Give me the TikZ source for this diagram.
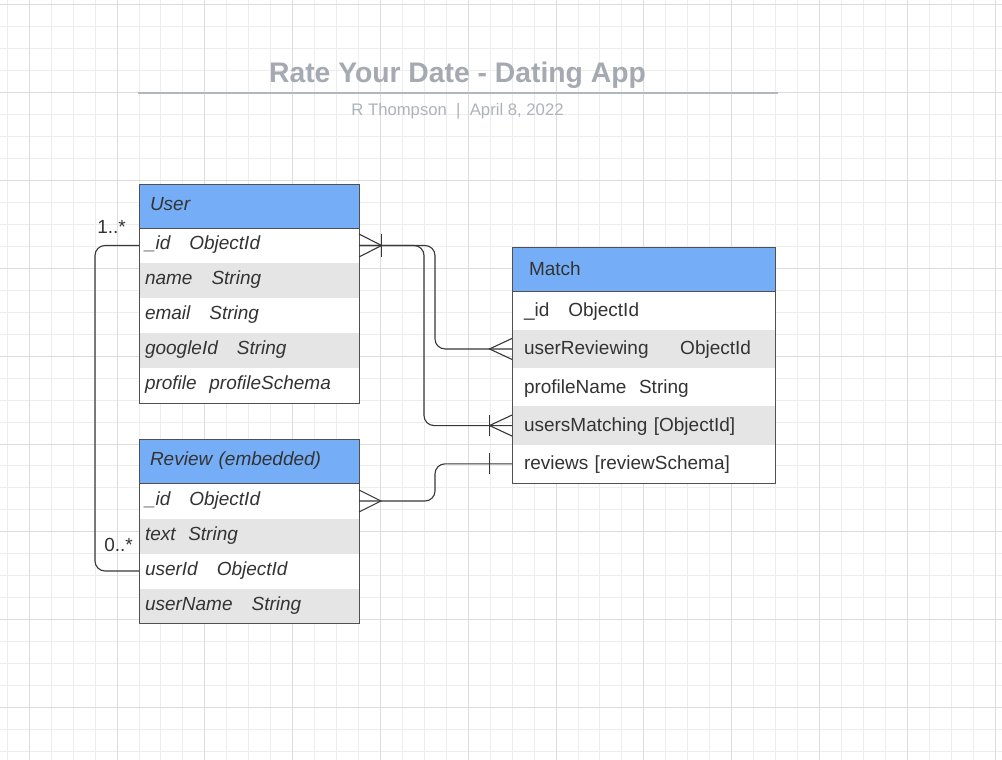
\documentclass[tikz,border=0pt]{standalone}
\usepackage{fontspec}
\setmainfont{Liberation Sans}
\usepackage{xcolor}
\usepackage{tikz}
\usetikzlibrary{positioning, fit, calc}
\definecolor{hdrblue}{HTML}{75AEF6}
\definecolor{rowgray}{HTML}{E5E5E5}
\definecolor{boxgray}{HTML}{505050}
\definecolor{connline}{HTML}{383838}
\definecolor{txtgray}{HTML}{333333}
\definecolor{titlegray}{HTML}{A5A9B2}
\definecolor{bylinegray}{HTML}{AEB2BA}
\definecolor{gridminor}{HTML}{EDEDED}
\definecolor{gridmajor}{HTML}{DCDCDC}
\tikzset{
  ent/.style={rectangle, outer sep=0pt, inner ysep=0pt, align=left,
              text=txtgray, text height=14pt, text depth=6pt,
              font=\fontsize{19}{22}\selectfont},
  slant/.style={font=\fontsize{19}{22}\selectfont\itshape},
  hdr/.style={ent, fill=hdrblue, minimum height=44pt,
              execute at begin node={\hspace*{5pt}}},
  fld/.style={ent, fill=white, minimum height=#1},
  fld/.default=35pt,
  fldgray/.style={fld=#1, fill=rowgray},
  fldgray/.default=35pt,
  narrow/.style={text width=208pt, inner xsep=6pt},
  wide/.style={text width=239pt, inner xsep=12pt, text depth=2.5pt},
  frame/.style={rectangle, draw=boxgray, line width=1pt, inner sep=0pt},
  conn/.style={draw=connline, line width=1.1pt, rounded corners=10pt},
  foot/.style={draw=connline, line width=1.1pt},
  mult/.style={inner sep=0pt, text=txtgray, font=\fontsize{19}{22}\selectfont},
  minorgrid/.style={draw=gridminor, line width=1pt},
  majorgrid/.style={draw=gridmajor, line width=1pt},
  title/.style={inner sep=0pt, anchor=base, text=titlegray,
                font=\fontsize{28.3}{32}\selectfont\bfseries},
  byline/.style={inner sep=0pt, anchor=base, text=bylinegray,
                 font=\fontsize{16.7}{20}\selectfont},
  rule/.style={draw=titlegray!85, line width=2pt},
}

\begin{document}
\begin{tikzpicture}[x=1pt, y=-1pt]
  % Canvas and grid
  \fill[white] (0,0) rectangle (1002,760);
  \useasboundingbox (0,0) rectangle (1002,760);
  \foreach \i in {0,...,45}
    \draw[minorgrid] ({7.3+21.95*\i},0) -- ++(0,760);
  \foreach \j in {0,...,34}
    \draw[minorgrid] (0,{5+21.95*\j}) -- ++(1002,0);
  \foreach \i in {0,...,11}
    \draw[majorgrid] ({29.25+87.8*\i},0) -- ++(0,760);
  \foreach \j in {0,...,8}
    \draw[majorgrid] (0,{5+87.8*\j}) -- ++(1002,0);

  % Title block
  \node[title] (title) at (457.5,82.3) {Rate Your Date - Dating App};
  \draw[rule] (137.5,93) -- (777.5,93);
  \node[byline] (byline) at ([yshift=-33.7pt]title.base)
    {R Thompson~~|~~April 8, 2022};

  % User
  \node[hdr, narrow, slant, anchor=north west] (user) at (139,184) {User};
  \node[fld, narrow, slant, below=0pt of user] (userid)
    {\_id~~~ObjectId};
  \node[fldgray, narrow, slant, below=0pt of userid] (username)
    {name~~~String};
  \node[fld, narrow, slant, below=0pt of username] (useremail)
    {email~~~String};
  \node[fldgray, narrow, slant, below=0pt of useremail] (usergoogle)
    {googleId~~~String};
  \node[fld, narrow, slant, below=0pt of usergoogle] (userprofile)
    {profile~~profileSchema};
  \node[frame, fit=(user)(userprofile)] (userbox) {};
  \node[frame, fit=(user)] {};

  % Review
  \node[hdr, narrow, slant, anchor=north west] (review) at (139,439.5)
    {Review (embedded)};
  \node[fld, narrow, slant, below=0pt of review] (reviewid)
    {\_id~~~ObjectId};
  \node[fldgray, narrow, slant, below=0pt of reviewid] (reviewtext)
    {text~~String};
  \node[fld, narrow, slant, below=0pt of reviewtext] (reviewuser)
    {userId~~~ObjectId};
  \node[fldgray, narrow, slant, below=0pt of reviewuser] (reviewname)
    {userName~~~String};
  \node[frame, fit=(review)(reviewname)] (reviewbox) {};
  \node[frame, fit=(review)] {};

  % Match
  \node[hdr, wide, anchor=north west] (match) at (512,247.5) {Match};
  \node[fld=38.3pt, wide, below=0pt of match] (matchid)
    {\_id~~~ObjectId};
  \node[fldgray=38.3pt, wide, below=0pt of matchid] (matchrev)
    {userReviewing~~~~~ObjectId};
  \node[fld=38.3pt, wide, below=0pt of matchrev] (matchname)
    {profileName~~String};
  \node[fldgray=38.3pt, wide, below=0pt of matchname] (matchusers)
    {usersMatching [ObjectId]};
  \node[fld=38.3pt, wide, below=0pt of matchusers] (matchreviews)
    {reviews [reviewSchema]};
  \node[frame, fit=(match)(matchreviews)] (matchbox) {};
  \node[frame, fit=(match)] {};

  % Connectors
  \draw[conn] (userid.east) -- ++(76,0) |- (matchrev.west);
  \draw[conn] (userid.east) -- ++(65,0) |- (matchusers.west);
  \draw[conn] (reviewid.east) -- ++(76,0) |- (matchreviews.west);
  \draw[conn] (userid.west) -- ++(-44,0) |- (reviewuser.west);

  % Crow's feet and bars
  \coordinate (ftuser) at ($(userid.east)+(22.5,0)$);
  \draw[foot] ($(userid.east)+(0,-11.5)$) -- (ftuser)
    -- ($(userid.east)+(0,11.5)$);
  \draw[foot] ($(ftuser)+(0,-11.5)$) -- ($(ftuser)+(0,11.5)$);

  \coordinate (ftrev) at ($(matchrev.west)+(-22.5,0)$);
  \draw[foot] ($(matchrev.west)+(0,-10.5)$) -- (ftrev)
    -- ($(matchrev.west)+(0,10.5)$);

  \coordinate (ftusers) at ($(matchusers.west)+(-22.5,0)$);
  \draw[foot] ($(matchusers.west)+(0,-10.5)$) -- (ftusers)
    -- ($(matchusers.west)+(0,10.5)$);
  \draw[foot] ($(ftusers)+(0,-10.5)$) -- ($(ftusers)+(0,10.5)$);

  \coordinate (ftreview) at ($(reviewid.east)+(22,0)$);
  \draw[foot] ($(reviewid.east)+(0,-11)$) -- (ftreview)
    -- ($(reviewid.east)+(0,11)$);

  \coordinate (ftreviews) at ($(matchreviews.west)+(-22.5,0)$);
  \draw[foot] ($(ftreviews)+(0,-10.5)$) -- ($(ftreviews)+(0,10.5)$);

  % Multiplicities
  \node[mult, above left=12pt and 13pt of userid.west] (multuser) {1..*};
  \node[mult, above left=19pt and 6pt of reviewuser.west] (multreview)
    {0..*};
\end{tikzpicture}
\end{document}
